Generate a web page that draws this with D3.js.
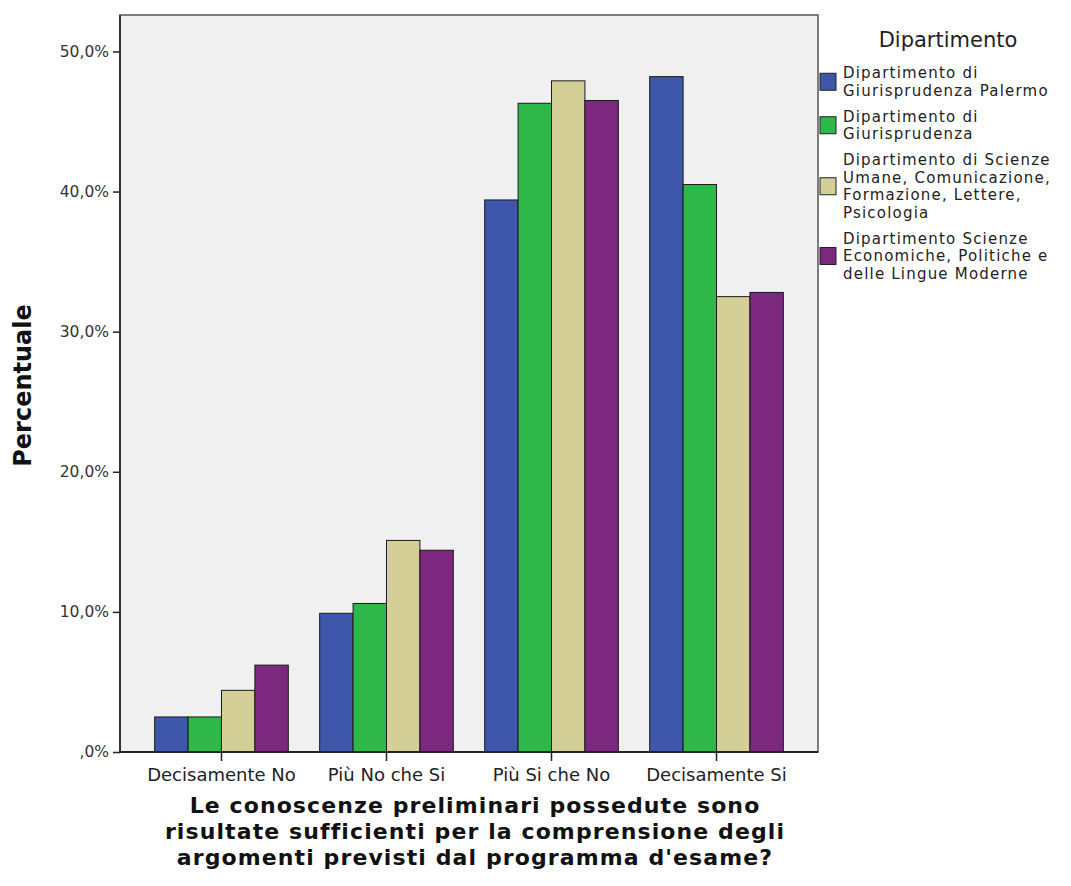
<!DOCTYPE html>
<html>
<head>
<meta charset="utf-8">
<script src="https://cdn.jsdelivr.net/npm/d3@7"></script>
<style>
  body { margin: 0; background: #fff; }
  text { font-family: "DejaVu Sans", sans-serif; }
</style>
</head>
<body>
<div id="chart"></div>
<script>
var categories = ["Decisamente No", "Più No che Si", "Più Si che No", "Decisamente Si"];
var departments = [
    ["Dipartimento di", "Giurisprudenza Palermo"],
    ["Dipartimento di", "Giurisprudenza"],
    ["Dipartimento di Scienze", "Umane, Comunicazione,", "Formazione, Lettere,", "Psicologia"],
    ["Dipartimento Scienze", "Economiche, Politiche e", "delle Lingue Moderne"]
];
var colors = ["#3e57ab", "#2eb84a", "#d4cf97", "#7c287f"];
// percent per department, one value per category
var palermo    = [2.5, 9.9, 39.4, 48.2];
var giuris     = [2.5, 10.6, 46.3, 40.5];
var scienzeUm  = [4.4, 15.1, 47.9, 32.5];
var economiche = [6.2, 14.4, 46.5, 32.8];
var series = [palermo, giuris, scienzeUm, economiche];
var yTicks = [0, 10, 20, 30, 40, 50];
var xTitle = ["Le conoscenze preliminari possedute sono",
              "risultate sufficienti per la comprensione degli",
              "argomenti previsti dal programma d'esame?"];

var width = 1071, height = 886;
var plotLeft = 120, plotRight = 818, plotTop = 15, plotBottom = 752;

var svg = d3.select("#chart").append("svg")
    .attr("width", width)
    .attr("height", height);

var x0 = d3.scaleBand()
    .domain(categories)
    .range([plotLeft, plotRight])
    .paddingInner(0.19)
    .paddingOuter(0.21);
var x1 = d3.scaleBand()
    .domain(d3.range(series.length))
    .range([0, x0.bandwidth()]);
var y = d3.scaleLinear()
    .domain([0, 52.6])
    .range([plotBottom, plotTop]);

// plot background
svg.append("rect")
    .attr("x", plotLeft).attr("y", plotTop)
    .attr("width", plotRight - plotLeft).attr("height", plotBottom - plotTop)
    .attr("fill", "#f0f0f0")
    .attr("stroke", "#555")
    .attr("stroke-width", 1.5);

var rows = [];
categories.forEach(function(c, i) {
    series.forEach(function(s, j) { rows.push({cat: c, dep: j, v: s[i]}); });
});

svg.selectAll(".bar")
    .data(rows)
    .enter()
        .append("rect").attr("class", "bar")
        .attr("x", function(d) { return x0(d.cat) + x1(d.dep); })
        .attr("y", function(d) { return y(d.v); })
        .attr("width", x1.bandwidth())
        .attr("height", function(d) { return plotBottom - y(d.v); })
        .attr("fill", function(d) { return colors[d.dep]; })
        .attr("stroke", "#1a1a1a")
        .attr("stroke-width", 1);

// left and bottom axis lines
svg.append("line")
    .attr("x1", plotLeft).attr("x2", plotLeft).attr("y1", plotTop).attr("y2", plotBottom)
    .attr("stroke", "#333").attr("stroke-width", 2);
svg.append("line")
    .attr("x1", plotLeft).attr("x2", plotRight).attr("y1", plotBottom).attr("y2", plotBottom)
    .attr("stroke", "#222").attr("stroke-width", 2);

var yAxis = svg.append("g")
    .attr("transform", "translate(" + plotLeft + ",0)")
    .call(d3.axisLeft(y).tickValues(yTicks).tickSize(7).tickPadding(4)
        .tickFormat(function(d) { return d === 0 ? ",0%" : d3.format(".1f")(d).replace(".", ",") + "%"; }));
yAxis.select(".domain").remove();
yAxis.selectAll("line").attr("stroke", "#222").attr("stroke-width", 1.5);
yAxis.selectAll("text").attr("fill", "#333").style("font-size", "15.5px")
    .style("font-family", "DejaVu Sans, sans-serif");

var xAxis = svg.append("g")
    .attr("transform", "translate(0," + plotBottom + ")")
    .call(d3.axisBottom(x0).tickSize(9).tickPadding(7));
xAxis.select(".domain").remove();
xAxis.selectAll("line").attr("stroke", "#222").attr("stroke-width", 1.5);
xAxis.selectAll("text").attr("fill", "#222").style("font-size", "18px")
    .style("font-family", "DejaVu Sans, sans-serif");

svg.append("text")
    .attr("transform", "translate(31," + ((plotTop + plotBottom) / 2 + 2) + ") rotate(-90)")
    .attr("text-anchor", "middle")
    .style("font-size", "24px").style("font-weight", "bold")
    .attr("fill", "#111")
    .text("Percentuale");

svg.append("g").selectAll("text")
    .data(xTitle)
    .enter()
        .append("text")
        .attr("x", 475)
        .attr("y", function(d, i) { return 813 + i * 26; })
        .attr("text-anchor", "middle")
        .style("font-size", "22px").style("font-weight", "bold")
        .style("letter-spacing", "1.1px")
        .attr("fill", "#111")
        .text(function(d) { return d; });

// legend
var legend = svg.append("g");
legend.append("text")
    .attr("x", 948).attr("y", 47)
    .attr("text-anchor", "middle")
    .style("font-size", "21px").attr("fill", "#222")
    .text("Dipartimento");

var lineH = 17.5, itemGap = 8.5;
var yPos = 78;
departments.forEach(function(lines, j) {
    var g = legend.append("g");
    var first = yPos;
    lines.forEach(function(l, k) {
        g.append("text")
            .attr("x", 843).attr("y", first + k * lineH)
            .style("font-size", "15px")
            .style("letter-spacing", "1.2px")
            .attr("fill", "#222")
            .text(l);
    });
    var mid = first + (lines.length - 1) * lineH / 2 - 5;
    g.append("rect")
        .attr("x", 820).attr("y", mid - 8.5)
        .attr("width", 16).attr("height", 17)
        .attr("fill", colors[j])
        .attr("stroke", "#222").attr("stroke-width", 1);
    yPos += lines.length * lineH + itemGap;
});
</script>
</body>
</html>
